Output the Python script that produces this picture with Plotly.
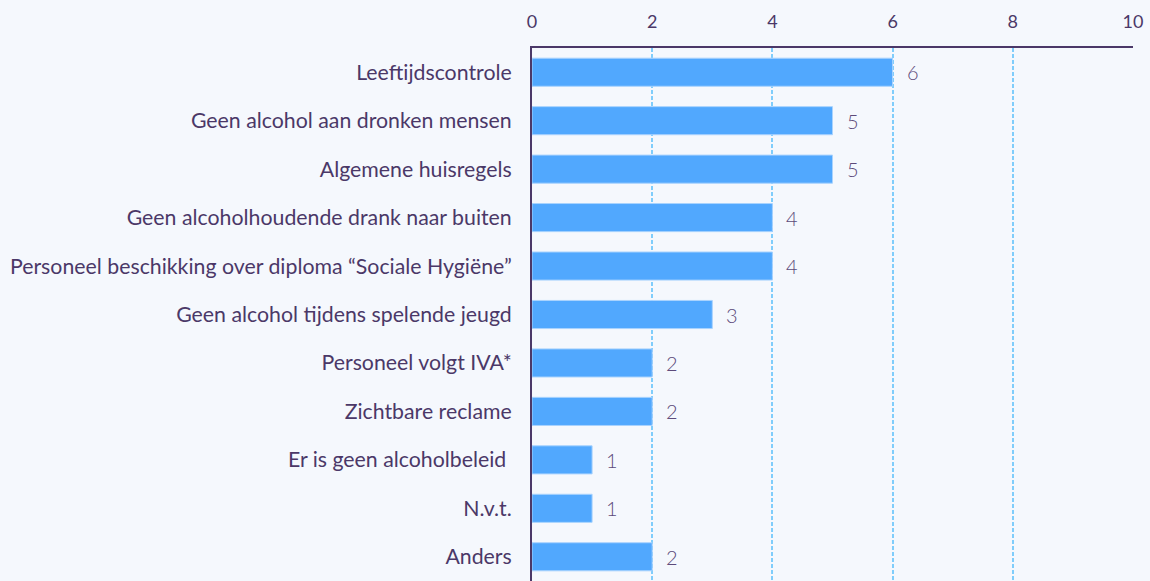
import plotly.graph_objects as go

categories = [
    "Leeftijdscontrole",
    "Geen alcohol aan dronken mensen",
    "Algemene huisregels",
    "Geen alcoholhoudende drank naar buiten",
    "Personeel beschikking over diploma “Sociale Hygiëne”",
    "Geen alcohol tijdens spelende jeugd",
    "Personeel volgt IVA*",
    "Zichtbare reclame",
    "Er is geen alcoholbeleid ",
    "N.v.t.",
    "Anders",
]
values = [6, 5, 5, 4, 4, 3, 2, 2, 1, 1, 2]
tick_vals = [0, 2, 4, 6, 8, 10]

txt_color = "#4b3868"
bg = "#f5f8fd"

fig = go.Figure()
fig.add_trace(go.Bar(
    x=values, y=categories, orientation="h",
    marker=dict(color="#51a8fe", line=dict(width=1, color="#a9d3fe")),
    width=0.58,
    hoverinfo="skip",
))

for c, v in zip(categories, values):
    fig.add_annotation(
        x=v, y=c, text=str(v), showarrow=False,
        xanchor="left", xshift=12,
        font=dict(family="Lato", size=20, color="#5c4a7a", weight=300),
    )

fig.update_layout(
    width=1150, height=581,
    margin=dict(l=532, r=17, t=48, b=0),
    paper_bgcolor=bg, plot_bgcolor=bg,
    showlegend=False,
    bargap=0.42,
    font=dict(family="Lato", color=txt_color),
)
fig.update_xaxes(
    side="top", range=[0, 10], tickvals=tick_vals,
    showgrid=True, gridcolor="#80cdfb", griddash="4px,2px", gridwidth=1.5,
    showline=True, linecolor="#4b3868", linewidth=2,
    zeroline=False, ticks="", ticklen=0, ticklabelstandoff=11,
    tickfont=dict(family="Lato", size=18, color=txt_color),
)
fig.update_yaxes(
    autorange="reversed",
    showline=True, linecolor="#4b3868", linewidth=2,
    showgrid=False, ticks="", ticklabelstandoff=14,
    tickfont=dict(family="Lato", size=21.3, color=txt_color),
)

fig.write_html(
    "out.html",
    config={"displayModeBar": False},
    post_script="document.body.style.margin='0';document.body.style.background='#f5f8fd';",
)
